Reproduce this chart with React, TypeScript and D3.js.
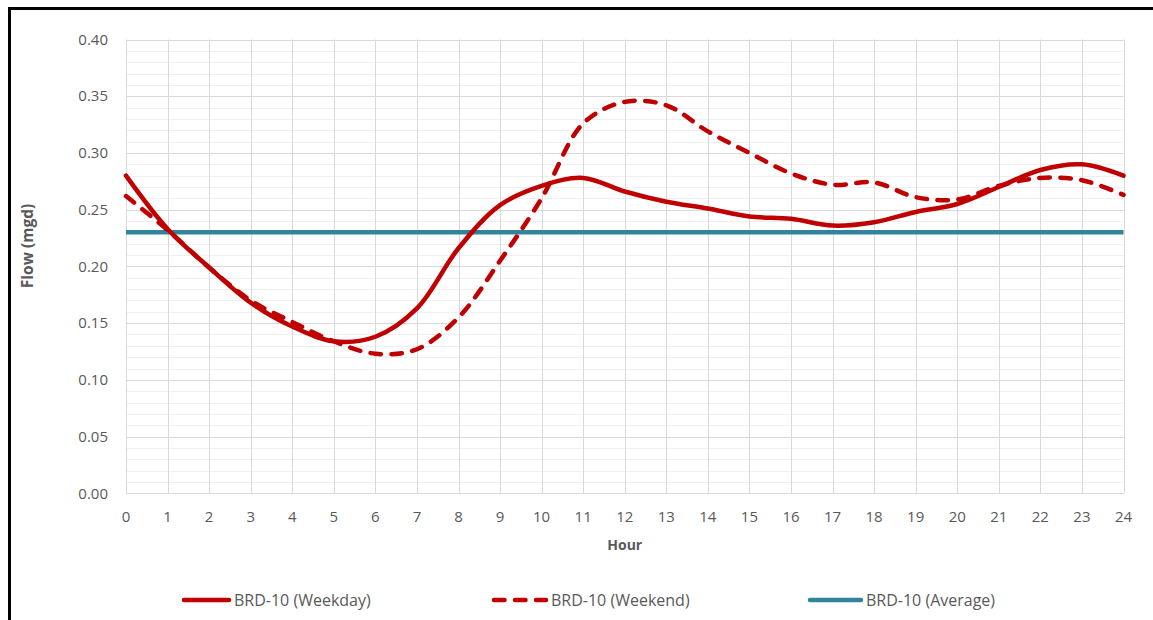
import React, { useEffect, useRef } from "react";
import * as d3 from "d3";

const hours = d3.range(0, 25);
const weekday = [0.280, 0.233, 0.199, 0.168, 0.147, 0.134, 0.138, 0.163, 0.216, 0.254, 0.271, 0.278, 0.266, 0.257, 0.251, 0.244, 0.242, 0.236, 0.239, 0.248, 0.255, 0.270, 0.285, 0.290, 0.280];
const weekend = [0.262, 0.232, 0.199, 0.170, 0.151, 0.134, 0.123, 0.127, 0.155, 0.205, 0.260, 0.326, 0.345, 0.342, 0.319, 0.300, 0.282, 0.272, 0.274, 0.261, 0.259, 0.271, 0.278, 0.276, 0.263];
const average = hours.map(() => 0.23);
const yTicks = [0, 0.05, 0.1, 0.15, 0.2, 0.25, 0.3, 0.35, 0.4];
const seriesNames = ["BRD-10 (Weekday)", "BRD-10 (Weekend)", "BRD-10 (Average)"];

const RED = "#C00000";
const TEAL = "#31849B";
const FONT = "'Open Sans', sans-serif";

export default function App() {
  const ref = useRef<SVGSVGElement>(null);
  useEffect(() => {
    const svg = d3.select(ref.current);
    svg.selectAll("*").remove();
    const x = d3.scaleLinear().domain([0, 24]).range([126, 1123.5]);
    const y = d3.scaleLinear().domain([0, 0.4]).range([493.3, 39.5]);

    svg.append("rect").attr("x", 0).attr("y", 0).attr("width", 1153).attr("height", 620).attr("fill", "#fff");
    svg.append("rect").attr("x", 9.5).attr("y", 8.5).attr("width", 1200).attr("height", 700)
      .attr("fill", "none").attr("stroke", "#000").attr("stroke-width", 3);

    const g = svg.append("g");
    const minor = d3.range(0, 41).map((i) => i / 100).filter((v, i) => i % 5 !== 0);
    g.selectAll(".minor").data(minor).enter().append("line")
      .attr("x1", x(0)).attr("x2", x(24)).attr("y1", (d) => Math.round(y(d)) + 0.5).attr("y2", (d) => Math.round(y(d)) + 0.5)
      .attr("stroke", "#efefef").attr("stroke-width", 1);
    g.selectAll(".vgrid").data(hours).enter().append("line")
      .attr("x1", (d) => Math.round(x(d)) + 0.5).attr("x2", (d) => Math.round(x(d)) + 0.5)
      .attr("y1", y(0.4)).attr("y2", y(0))
      .attr("stroke", "#d9d9d9").attr("stroke-width", 1);
    g.selectAll(".major").data(yTicks).enter().append("line")
      .attr("x1", x(0)).attr("x2", x(24)).attr("y1", (d) => Math.round(y(d)) + 0.5).attr("y2", (d) => Math.round(y(d)) + 0.5)
      .attr("stroke", "#d9d9d9").attr("stroke-width", 1);

    g.selectAll(".yl").data(yTicks).enter().append("text")
      .attr("x", 108).attr("y", (d) => y(d)).attr("dy", "0.35em").attr("text-anchor", "end")
      .attr("font-family", FONT).attr("font-size", 15).attr("fill", "#595959")
      .text((d) => d.toFixed(2));
    g.selectAll(".xl").data(hours).enter().append("text")
      .attr("x", (d) => x(d)).attr("y", 522).attr("text-anchor", "middle")
      .attr("font-family", FONT).attr("font-size", 15).attr("fill", "#595959")
      .text((d) => String(d));

    g.append("text").attr("x", x(12)).attr("y", 550).attr("text-anchor", "middle")
      .attr("font-family", FONT).attr("font-size", 14).attr("font-weight", "bold").attr("fill", "#595959").text("Hour");
    g.append("text").attr("transform", `translate(33,246) rotate(-90)`).attr("text-anchor", "middle")
      .attr("font-family", FONT).attr("font-size", 15.5).attr("font-weight", "bold").attr("fill", "#595959").text("Flow (mgd)");

    const line = d3.line<number>().x((_, i) => x(hours[i])).y((d) => y(d)).curve(d3.curveCatmullRom.alpha(0.5));
    g.append("path").attr("d", line(average)).attr("fill", "none").attr("stroke", TEAL).attr("stroke-width", 4.5);
    g.append("path").attr("d", line(weekend)).attr("fill", "none").attr("stroke", RED).attr("stroke-width", 4.5)
      .attr("stroke-dasharray", "10.5 10.5").attr("stroke-linecap", "round");
    g.append("path").attr("d", line(weekday)).attr("fill", "none").attr("stroke", RED).attr("stroke-width", 4.5)
      .attr("stroke-linecap", "round");

    const leg = [
      { name: seriesNames[0], x0: 184, x1: 229, color: RED, dash: null },
      { name: seriesNames[1], x0: 494, x1: 546, color: RED, dash: "10.5 10.5" },
      { name: seriesNames[2], x0: 810, x1: 861, color: TEAL, dash: null },
    ];
    leg.forEach((l) => {
      const p = g.append("line").attr("x1", l.x0).attr("x2", l.x1).attr("y1", 600).attr("y2", 600)
        .attr("stroke", l.color).attr("stroke-width", 4.5).attr("stroke-linecap", "round");
      if (l.dash) p.attr("stroke-dasharray", l.dash);
      g.append("text").attr("x", l.x1 + 5).attr("y", 600).attr("dy", "0.35em")
        .attr("font-family", FONT).attr("font-size", 16).attr("fill", "#595959").text(l.name);
    });
  }, []);
  return <svg ref={ref} width={1153} height={620} style={{ position: "absolute", left: 0, top: 0 }} />;
}
